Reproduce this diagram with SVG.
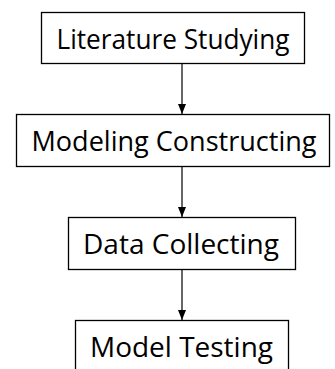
<svg xmlns="http://www.w3.org/2000/svg" width="335" height="369" viewBox="0 0 335 369">
<defs>
<style>
.box{fill:#fff;stroke:#000;stroke-width:1.3}
.t{font-family:"Open Sans","Liberation Sans",sans-serif;font-size:28px;fill:#000;text-anchor:middle}
.c{stroke:#000;stroke-width:1.2;fill:none}
</style>
<marker id="ah" markerWidth="10" markerHeight="8" refX="10" refY="4" orient="auto" markerUnits="userSpaceOnUse" viewBox="0 0 10 8">
<path d="M0,0 L10,4 L0,8 Z" fill="#000"/>
</marker>
</defs>
<g id="connectors">
<line class="c" x1="182" y1="63" x2="182" y2="114" marker-end="url(#ah)"/>
<line class="c" x1="182" y1="166" x2="182" y2="217" marker-end="url(#ah)"/>
<line class="c" x1="182" y1="269" x2="182" y2="320" marker-end="url(#ah)"/>
</g>
<g id="n1"><rect class="box" x="41.5" y="12.5" width="263" height="51"/><text class="t" x="173" y="49" textLength="233" lengthAdjust="spacingAndGlyphs">Literature Studying</text></g>
<g id="n2"><rect class="box" x="16.5" y="114.5" width="313" height="52"/><text class="t" x="174" y="151" textLength="285" lengthAdjust="spacingAndGlyphs">Modeling Constructing</text></g>
<g id="n3"><rect class="box" x="68.5" y="217.5" width="227" height="52"/><text class="t" x="181" y="254" textLength="196" lengthAdjust="spacingAndGlyphs">Data Collecting</text></g>
<g id="n4"><rect class="box" x="75.5" y="320.5" width="213" height="60"/><text class="t" x="181.5" y="357" textLength="183" lengthAdjust="spacingAndGlyphs">Model Testing</text></g>
</svg>
